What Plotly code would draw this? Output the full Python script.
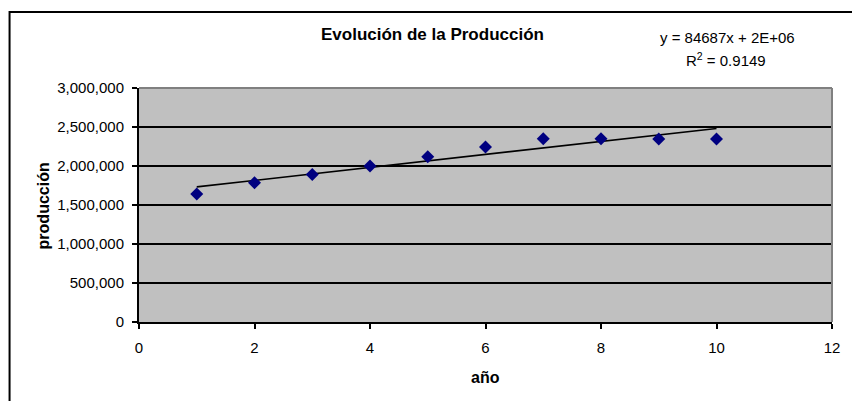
import numpy as np
import plotly.graph_objects as go

# ---- data ----
years = [1, 2, 3, 4, 5, 6, 7, 8, 9, 10]
production = [1640000, 1785000, 1890000, 2000000, 2120000, 2245000, 2350000, 2350000, 2345000, 2345000]
title_text = "Evolución de la Producción"
x_title = "año"
y_title = "producción"
eq_text = "y = 84687x + 2E+06"
r2_text = "R<sup>2</sup> = 0.9149"

# trendline from least squares fit of the data
slope, intercept = np.polyfit(years, production, 1)
trend_x = [years[0], years[-1]]
trend_y = [slope * v + intercept for v in trend_x]

W, H = 852, 401
L, R, T, B = 139, 835, 88, 322  # plot area in pixels


def px_x(px):
    return (px - L) / (R - L)


def px_y(py):
    return (B - py) / (B - T)


FONT = "Liberation Sans, Arial, sans-serif"

fig = go.Figure()
fig.add_trace(go.Scatter(
    x=trend_x, y=trend_y, mode="lines",
    line=dict(color="black", width=1.6), showlegend=False, hoverinfo="skip"))
fig.add_trace(go.Scatter(
    x=years, y=production, mode="markers",
    marker=dict(symbol="diamond", size=10, color="#000080",
                line=dict(width=0)),
    showlegend=False))

fig.update_layout(
    width=W, height=H,
    margin=dict(l=L, r=W - R, t=T, b=H - B, pad=0),
    paper_bgcolor="white",
    plot_bgcolor="#C0C0C0",
    font=dict(family=FONT, color="black", size=15),
    showlegend=False,
)

fig.update_xaxes(
    range=[0, 12], dtick=2, tick0=0,
    showgrid=False, zeroline=False,
    showline=True, linecolor="black", linewidth=2,
    ticks="outside", ticklen=5, tickwidth=2, tickcolor="black",
    tickfont=dict(size=15, family=FONT), ticklabelstandoff=6,
)
fig.update_yaxes(
    range=[0, 3000000], dtick=500000, tick0=0, tickformat=",",
    showgrid=True, gridcolor="black", gridwidth=2, zeroline=False,
    showline=True, linecolor="black", linewidth=2,
    ticks="outside", ticklen=5, tickwidth=2, tickcolor="black",
    tickfont=dict(size=15, family=FONT), ticklabelstandoff=5,
)

shapes = [
    # gray plot frame top & right
    dict(type="line", xref="paper", yref="paper", x0=0, x1=1, y0=1, y1=1,
         line=dict(color="#808080", width=2), layer="above"),
    dict(type="line", xref="paper", yref="paper", x0=1, x1=1, y0=0, y1=1,
         line=dict(color="#808080", width=2), layer="above"),
    # outer chart border (left and top visible)
    dict(type="rect", xref="paper", yref="paper",
         x0=px_x(9), x1=px_x(W + 20), y0=px_y(H + 20), y1=px_y(12),
         line=dict(color="black", width=2), fillcolor="rgba(0,0,0,0)",
         layer="below"),
]
fig.update_layout(shapes=shapes)

annotations = [
    dict(text="<b>" + title_text + "</b>", x=px_x(434), y=px_y(35),
         font=dict(size=17, family=FONT)),
    dict(text=eq_text, x=px_x(730), y=px_y(37), font=dict(size=15, family=FONT)),
    dict(text=r2_text, x=px_x(729), y=px_y(59), font=dict(size=15, family=FONT)),
    dict(text="<b>" + x_title + "</b>", x=px_x(487), y=px_y(377),
         font=dict(size=16, family=FONT)),
    dict(text="<b>" + y_title + "</b>", x=px_x(43), y=px_y(206),
         font=dict(size=16, family=FONT), textangle=-90),
]
for a in annotations:
    a.update(xref="paper", yref="paper", xanchor="center", yanchor="middle",
             showarrow=False)
fig.update_layout(annotations=annotations)

fig.write_html("out.html")
